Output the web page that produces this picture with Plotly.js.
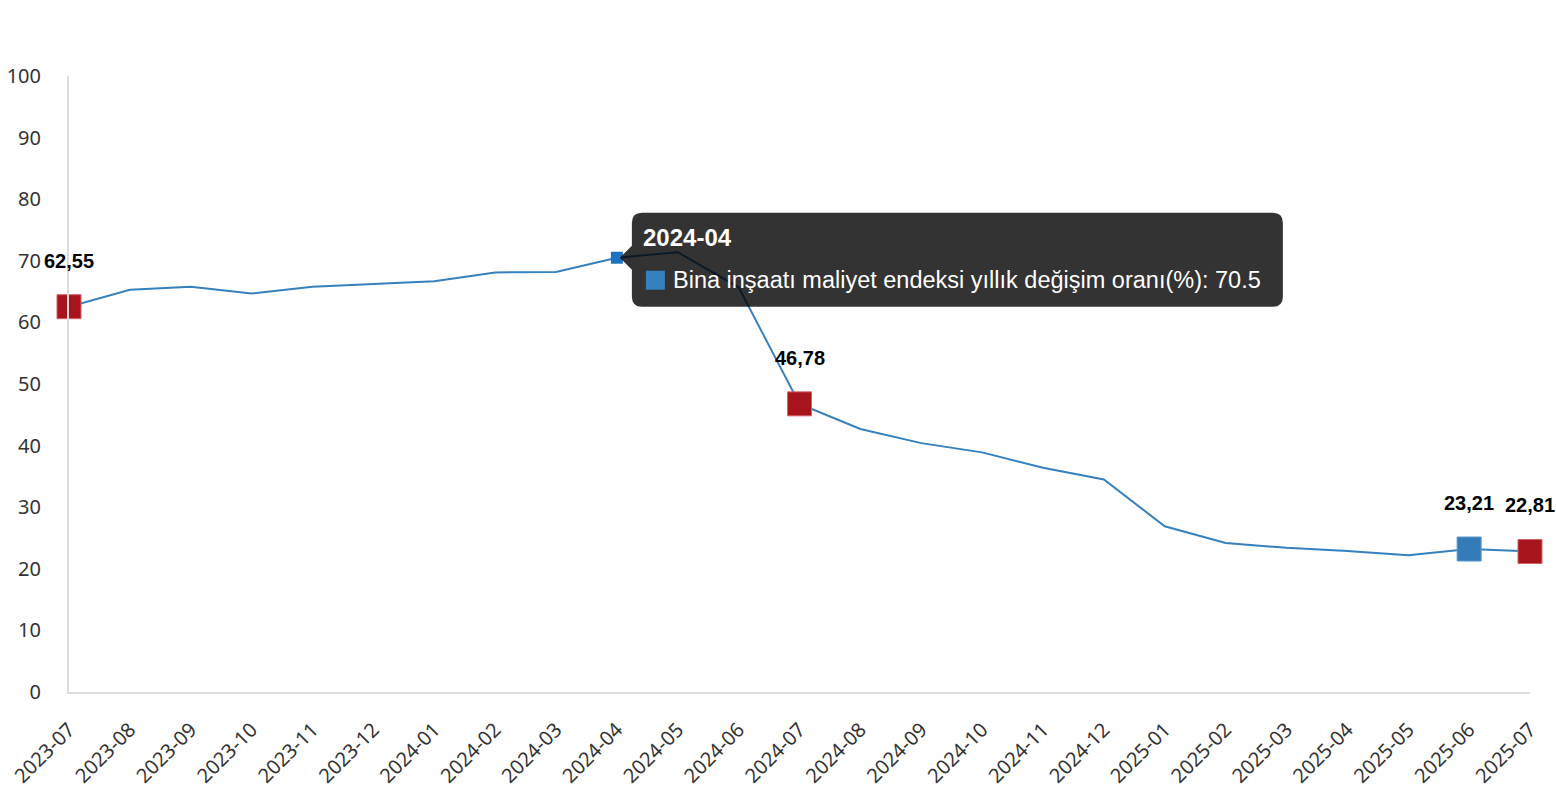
<!DOCTYPE html>
<html>
<head>
<meta charset="utf-8">
<script src="https://cdn.plot.ly/plotly-3.0.1.min.js"></script>
<style>html,body{margin:0;padding:0;background:#fff;}#chart{width:1556px;height:800px;}</style>
</head>
<body>
<div id="chart"></div>
<script>
var months = ["2023-07","2023-08","2023-09","2023-10","2023-11","2023-12","2024-01","2024-02","2024-03","2024-04","2024-05","2024-06","2024-07","2024-08","2024-09","2024-10","2024-11","2024-12","2025-01","2025-02","2025-03","2025-04","2025-05","2025-06","2025-07"];
var values = [62.55,65.3,65.8,64.7,65.8,66.2,66.7,68.1,68.2,70.5,71.4,65.7,46.78,42.7,40.4,38.9,36.4,34.5,26.9,24.2,23.4,22.9,22.2,23.21,22.81];
var seriesName = "Bina inşaatı maliyet endeksi yıllık değişim oranı(%)";
var highlightIdx = [0, 12, 23, 24];
var highlightColor = ["#a8141b", "#a8141b", "#337cb9", "#a8141b"];
var activeIdx = 9;
var yTicks = [0,10,20,30,40,50,60,70,80,90,100];

var fmt = function(v){ return v.toFixed(2).replace(".", ","); };

var lineTrace = {
  x: months, y: values, type: "scatter", mode: "lines",
  line: {color: "#3580bd", width: 2},
  hoverinfo: "none", cliponaxis: false, showlegend: false
};
var hlTrace = {
  x: highlightIdx.map(function(i){return months[i];}),
  y: highlightIdx.map(function(i){return values[i];}),
  type: "scatter", mode: "markers",
  marker: {symbol: "square", size: 24, color: highlightColor,
           line: {color: highlightColor.map(function(c){return c === "#a8141b" ? "#d4636a" : "#5b97c8";}), width: 1}},
  hoverinfo: "none", cliponaxis: false, showlegend: false
};
var activeTrace = {
  x: [months[activeIdx]], y: [values[activeIdx]], type: "scatter", mode: "markers",
  marker: {symbol: "square", size: 12, color: "#1a73c0"},
  hoverinfo: "none", cliponaxis: false, showlegend: false
};

var annotations = highlightIdx.map(function(i){
  return {x: months[i], y: values[i], xref: "x", yref: "y", text: fmt(values[i]),
          showarrow: false, yshift: 46, xanchor: "center", yanchor: "middle",
          font: {family: "Liberation Sans, Arial, sans-serif", size: 20, color: "#000", weight: "bold"}};
});
annotations.push({x: months[activeIdx], y: values[activeIdx], xref: "x", yref: "y",
  text: "<b>" + months[activeIdx] + "</b>", showarrow: false, xanchor: "left", yanchor: "middle",
  xshift: 24, yshift: 20, font: {family: "Liberation Sans, Arial, sans-serif", size: 24, color: "#fff"}});
annotations.push({x: months[activeIdx], y: values[activeIdx], xref: "x", yref: "y",
  text: seriesName + ": " + values[activeIdx], showarrow: false, xanchor: "left", yanchor: "middle",
  xshift: 54, yshift: -22, font: {family: "Liberation Sans, Arial, sans-serif", size: 23.5, color: "#fff"}});

var r = 10, L = 15, R = 666, T = 45, B = -49;
var boxPath = "M " + L + " " + (T - r) + " Q " + L + " " + T + " " + (L + r) + " " + T +
  " L " + (R - r) + " " + T + " Q " + R + " " + T + " " + R + " " + (T - r) +
  " L " + R + " " + (B + r) + " Q " + R + " " + B + " " + (R - r) + " " + B +
  " L " + (L + r) + " " + B + " Q " + L + " " + B + " " + L + " " + (B + r) +
  " L " + L + " -12 L 3 0 L " + L + " 12 Z";

var shapes = [
  {type: "path", xref: "x", yref: "y", xsizemode: "pixel", ysizemode: "pixel",
   xanchor: months[activeIdx], yanchor: values[activeIdx], path: boxPath,
   fillcolor: "rgba(0,0,0,0.8)", line: {width: 0}, layer: "above"},
  {type: "rect", xref: "x", yref: "y", xsizemode: "pixel", ysizemode: "pixel",
   xanchor: months[activeIdx], yanchor: values[activeIdx], x0: 29, x1: 48, y0: -32, y1: -13,
   fillcolor: "#3580bd", line: {width: 0}, layer: "above"}
];

var layout = {
  width: 1556, height: 800,
  margin: {l: 69, r: 26, t: 76, b: 108},
  paper_bgcolor: "#fff", plot_bgcolor: "#fff",
  showlegend: false,
  xaxis: {type: "category", range: [0, months.length - 1], showgrid: false, zeroline: false,
          showline: true, linecolor: "#dddddd", linewidth: 2,
          ticks: "outside", ticklen: 16, tickcolor: "rgba(0,0,0,0)", tickangle: -45,
          tickfont: {family: "Noto Sans, sans-serif", size: 20, color: "#333"}},
  yaxis: {range: [0, 100], tickvals: yTicks, showgrid: false, zeroline: false,
          showline: true, linecolor: "#dddddd", linewidth: 2,
          ticks: "outside", ticklen: 22, tickcolor: "rgba(0,0,0,0)",
          tickfont: {family: "Noto Sans, sans-serif", size: 20, color: "#333"}},
  shapes: shapes,
  annotations: annotations,
  hovermode: false
};

Plotly.newPlot("chart", [lineTrace, hlTrace, activeTrace], layout, {displayModeBar: false, staticPlot: true});
</script>
</body>
</html>
